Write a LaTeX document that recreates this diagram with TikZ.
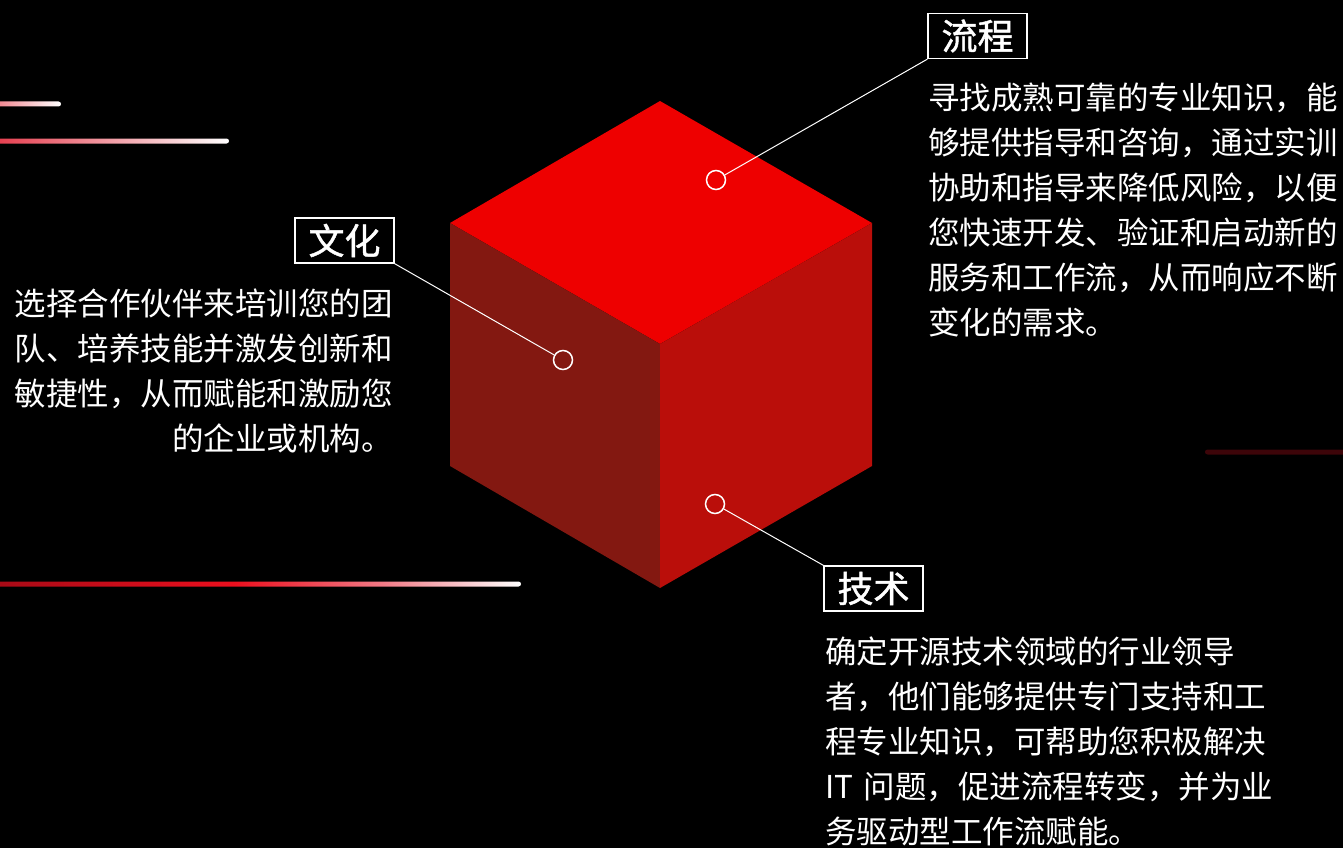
\documentclass[tikz,border=0pt]{standalone}
\usepackage{fontspec}
\newfontfamily\cjk{Noto Sans CJK SC}
\newfontfamily\cjkb[FakeBold=1.2]{Noto Sans CJK SC}
\definecolor{topc}{HTML}{EE0000}
\definecolor{leftc}{HTML}{831811}
\definecolor{rightc}{HTML}{BA0E0A}
\definecolor{barA}{HTML}{A50A16}
\definecolor{barB}{HTML}{EC0F1E}
\definecolor{barC}{HTML}{F27A86}
\definecolor{barD}{HTML}{E5394A}
\definecolor{barE}{HTML}{EF7883}
\definecolor{barF}{HTML}{3D0509}
\pgfdeclarehorizontalshading{longbar}{100bp}{color(0bp)=(barA); color(25bp)=(barA); color(48bp)=(barB); color(62bp)=(barC); color(75bp)=(white); color(100bp)=(white)}
\tikzset{
  x=1pt, y=-1pt,
  bodytext/.style={font=\cjk\fontsize{31.5}{45}\selectfont, text=white, inner sep=0pt},
  labelbox/.style={draw=white, line width=1.3pt, minimum width=99pt, minimum height=45pt, inner sep=0pt, font=\cjkb\fontsize{36}{36}\selectfont, text=white},
  dotc/.style={circle, draw=white, line width=1.5pt, minimum size=19pt, inner sep=0pt},
  conn/.style={draw=white, line width=1pt},
}
\begin{document}
\begin{tikzpicture}
\useasboundingbox (0,0) rectangle (1343,848);
\fill[black] (0,0) rectangle (1343,848);
% gradient bars
\shade[left color=barE, right color=white, rounded corners=2.5pt] (-10,101.5) rectangle (61,106.5);
\shade[left color=barD, right color=white, rounded corners=2.5pt] (-10,138.5) rectangle (229,143.5);
\shade[shading=longbar, rounded corners=2.5pt] (-10,581.5) rectangle (521,586.5);
\fill[barF, rounded corners=2.5pt] (1205,449.5) rectangle (1353,454.5);
% cube
\coordinate (T) at (660,101);
\coordinate (L) at (450,223);
\coordinate (R) at (872,223);
\coordinate (C) at (660,344);
\coordinate (B) at (660,588);
\coordinate (LB) at (450,466);
\coordinate (RB) at (872,466);
\fill[topc] (T) -- (R) -- (C) -- (L) -- cycle;
\fill[leftc] (L) -- (C) -- (B) -- (LB) -- cycle;
\fill[rightc] (C) -- (R) -- (RB) -- (B) -- cycle;
% markers
\node[dotc] (c1) at (716,180) {};
\node[dotc] (c2) at (563,360) {};
\node[dotc] (c3) at (715,504) {};
% labels
\node[labelbox] (lc) at (977.5,36) {流程};
\node[labelbox] (wh) at (344.5,240.5) {文化};
\node[labelbox] (js) at (873.5,588.5) {技术};
\draw[conn] (c1) -- (lc.south west);
\draw[conn] (c2) -- (wh.south east);
\draw[conn] (c3) -- (js.north west);
% paragraphs
\node[bodytext, text width=415pt, align=left, anchor=base west] (p1) at (928,110) {寻找成熟可靠的专业知识，能\\够提供指导和咨询，通过实训\\协助和指导来降低风险，以便\\您快速开发、验证和启动新的\\服务和工作流，从而响应不断\\变化的需求。};
\node[bodytext, text width=400pt, align=right, anchor=base east] (p2) at (393,315) {选择合作伙伴来培训您的团\\队、培养技能并激发创新和\\敏捷性，从而赋能和激励您\\的企业或机构。};
\node[bodytext, text width=460pt, align=left, anchor=base west] (p3) at (825,663) {确定开源技术领域的行业领导\\者，他们能够提供专门支持和工\\程专业知识，可帮助您积极解决\\IT 问题，促进流程转变，并为业\\务驱动型工作流赋能。};
\end{tikzpicture}
\end{document}
